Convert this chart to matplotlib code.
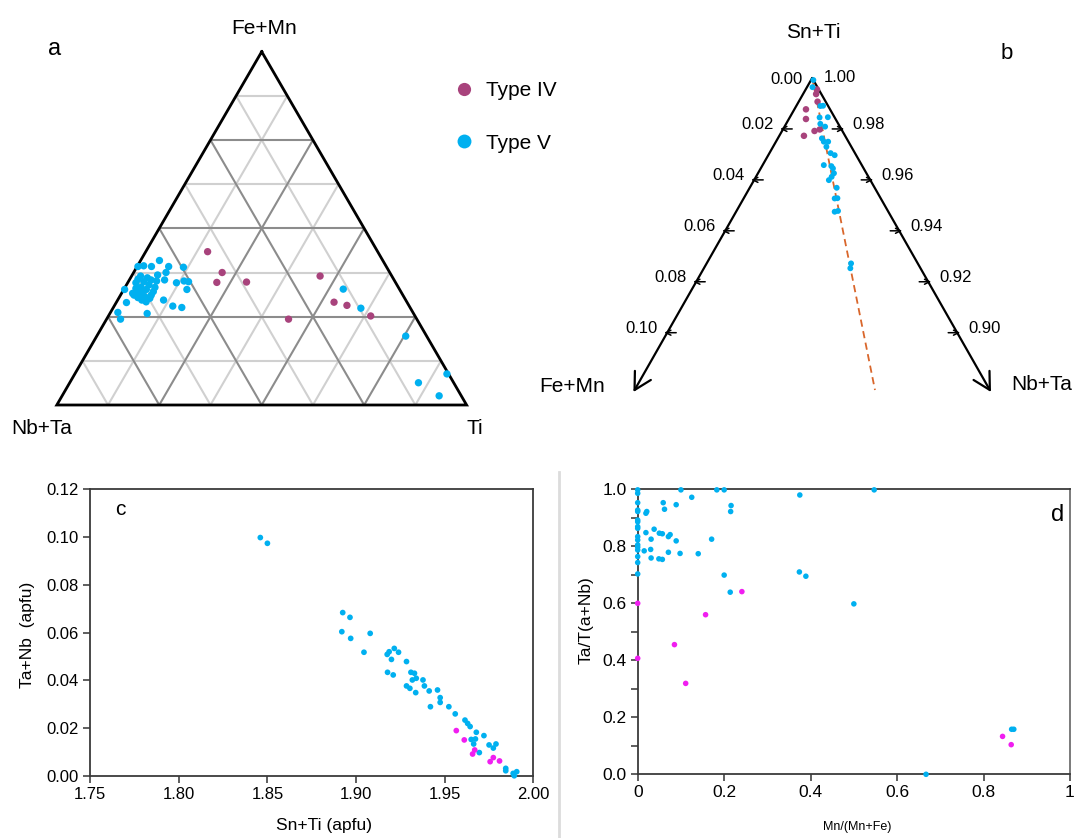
import numpy as np
import matplotlib
matplotlib.use("Agg")
import matplotlib.pyplot as plt
from matplotlib.lines import Line2D
from matplotlib.ticker import FixedLocator, MultipleLocator

plt.rcParams['font.family'] = ['Liberation Sans', 'DejaVu Sans']

PURPLE = '#A8437C'
BLUE = '#00B0F0'
MAGENTA = '#F01EF0'

# ---------------- Panel a: ternary Fe+Mn (top) / Nb+Ta (left) / Ti (right)
a_iv_femn = [0.434, 0.375, 0.347, 0.348, 0.365, 0.291, 0.282, 0.252, 0.243]
a_iv_ti = [0.151, 0.216, 0.217, 0.289, 0.460, 0.531, 0.567, 0.640, 0.444]
a_v_femn = [0.409, 0.392, 0.394, 0.392, 0.392, 0.390, 0.365, 0.360, 0.368, 0.375,
            0.354, 0.351, 0.346, 0.351, 0.349, 0.327, 0.327, 0.346, 0.333, 0.340,
            0.333, 0.316, 0.304, 0.307, 0.311, 0.292, 0.297, 0.290, 0.262, 0.243,
            0.259, 0.280, 0.276, 0.321, 0.325, 0.330, 0.327, 0.321, 0.302, 0.297,
            0.356, 0.349, 0.354, 0.311, 0.311, 0.328, 0.274, 0.195, 0.088, 0.063,
            0.026]
a_v_ti = [0.046, 0.002, 0.015, 0.035, 0.077, 0.114, 0.022, 0.041, 0.062, 0.079,
          0.086, 0.068, 0.119, 0.135, 0.147, 0.154, 0.002, 0.020, 0.039, 0.055,
          0.073, 0.027, 0.046, 0.061, 0.075, 0.072, 0.112, 0.025, 0.018, 0.034,
          0.091, 0.143, 0.167, 0.041, 0.047, 0.028, 0.055, 0.075, 0.076, 0.059,
          0.020, 0.038, 0.053, 0.033, 0.049, 0.535, 0.605, 0.754, 0.908, 0.851,
          0.920]

# ---------------- Panel b: ternary corner, Sn+Ti apex (fractions of Fe+Mn, Nb+Ta)
b_iv_femn = [0.0083, 0.0102, 0.0142, 0.0096, 0.0075, 0.0028, 0.0018, 0.0006]
b_iv_nbta = [0.0040, 0.0059, 0.0085, 0.0112, 0.0127, 0.0065, 0.0045, 0.0039]
b_v_femn = [0.0000, 0.0017, 0.0027, 0.0017, 0.0023, 0.0052, 0.0062, 0.0051, 0.0085,
            0.0085, 0.0070, 0.0086, 0.0084, 0.0074, 0.0131, 0.0107, 0.0106, 0.0112,
            0.0143, 0.0127, 0.0131, 0.0159, 0.0149, 0.0185, 0.0172, 0.0230, 0.0242]
b_v_nbta = [0.0008, 0.0019, 0.0083, 0.0092, 0.0131, 0.0103, 0.0118, 0.0140, 0.0152,
            0.0165, 0.0180, 0.0184, 0.0211, 0.0229, 0.0211, 0.0239, 0.0249, 0.0262,
            0.0258, 0.0261, 0.0300, 0.0314, 0.0323, 0.0340, 0.0350, 0.0498, 0.0505]
b_trend_femn = [0.0, 0.0396]
b_trend_nbta = [0.0, 0.0829]
b_left_ticks = [0.00, 0.02, 0.04, 0.06, 0.08, 0.10]
b_right_ticks = [1.00, 0.98, 0.96, 0.94, 0.92, 0.90]

# ---------------- Panel c
c_v_x = [1.846, 1.850, 1.8925, 1.8966, 1.892, 1.897, 1.908, 1.9045, 1.9176, 1.9187,
         1.9216, 1.920, 1.924, 1.9178, 1.921, 1.9285, 1.931, 1.933, 1.9318, 1.934,
         1.9378, 1.9386, 1.9285, 1.9304, 1.9337, 1.9413, 1.946, 1.9475, 1.9475, 1.942,
         1.9524, 1.956, 1.9615, 1.963, 1.9644, 1.9679, 1.9722, 1.965, 1.9664, 1.9674,
         1.9751, 1.9775, 1.979, 1.9696, 1.9845, 1.9845, 1.9887, 1.9907, 1.9893]
c_v_y = [0.0998, 0.0974, 0.0684, 0.0664, 0.0604, 0.0576, 0.0597, 0.0518, 0.0509, 0.0520,
         0.0534, 0.0488, 0.0518, 0.0434, 0.0423, 0.0479, 0.0434, 0.0430, 0.0402, 0.0409,
         0.0402, 0.0377, 0.0377, 0.0367, 0.0349, 0.0356, 0.0360, 0.0328, 0.0308, 0.0290,
         0.0290, 0.0260, 0.0234, 0.0220, 0.0207, 0.0183, 0.0169, 0.0153, 0.0134, 0.0155,
         0.0130, 0.0117, 0.0134, 0.0098, 0.0032, 0.0022, 0.0011, 0.0018, 0.0001]
c_iv_x = [1.9566, 1.9611, 1.9670, 1.9658, 1.9757, 1.9775, 1.9810]
c_iv_y = [0.0190, 0.0151, 0.0109, 0.0092, 0.0060, 0.0077, 0.0063]
c_xticks = [1.75, 1.80, 1.85, 1.90, 1.95, 2.00]
c_yticks = [0.00, 0.02, 0.04, 0.06, 0.08, 0.10, 0.12]

# ---------------- Panel d
d_v_x = [0, 0, 0, 0, 0, 0, 0, 0, 0, 0, 0, 0, 0, 0, 0, 0, 0,
         0.100, 0.183, 0.200, 0.125, 0.059, 0.089, 0.062, 0.021, 0.019, 0.216,
         0.215, 0.375, 0.547, 0.038, 0.019, 0.050, 0.057, 0.071, 0.075, 0.031,
         0.089, 0.171, 0.030, 0.015, 0.071, 0.098, 0.140, 0.031, 0.049, 0.057,
         0.200, 0.374, 0.389, 0.214, 0.500, 0.865, 0.870, 0.667]
d_v_y = [0.998, 0.986, 0.953, 0.927, 0.922, 0.892, 0.886, 0.869, 0.863, 0.834,
         0.822, 0.805, 0.797, 0.787, 0.764, 0.743, 0.703,
         0.998, 0.998, 0.998, 0.972, 0.953, 0.946, 0.930, 0.922, 0.916, 0.943,
         0.922, 0.980, 0.998, 0.860, 0.848, 0.846, 0.844, 0.834, 0.841, 0.825,
         0.819, 0.825, 0.789, 0.784, 0.779, 0.775, 0.774, 0.759, 0.756, 0.754,
         0.699, 0.710, 0.695, 0.639, 0.598, 0.158, 0.158, 0.000]
d_iv_x = [0, 0, 0.241, 0.157, 0.085, 0.111, 0.844, 0.864]
d_iv_y = [0.600, 0.407, 0.641, 0.560, 0.455, 0.319, 0.133, 0.104]
d_xticks = [0, 0.2, 0.4, 0.6, 0.8, 1.0]
d_xlabels = ['0', '0.2', '0.4', '0.6', '0.8', '1']
d_yticks = [0.0, 0.2, 0.4, 0.6, 0.8, 1.0]

# =====================================================================
W, H = 1076, 838
fig = plt.figure(figsize=(W / 100, H / 100), dpi=100)
bg = fig.add_axes([0, 0, 1, 1])
bg.set_xlim(0, W)
bg.set_ylim(H, 0)
bg.axis('off')
bg.patch.set_visible(False)

# ---- panel a geometry (canvas units)
VA = np.array([261.7, 51.7])   # Fe+Mn
VB = np.array([56.8, 405.0])   # Nb+Ta
VC = np.array([466.6, 405.0])  # Ti


def tern_a(femn, ti):
    femn = np.asarray(femn, float)
    ti = np.asarray(ti, float)
    nb = 1 - femn - ti
    return (nb * VB[0] + ti * VC[0] + femn * VA[0],
            nb * VB[1] + ti * VC[1] + femn * VA[1])


n = 8
for pass_dark in (False, True):
    for k in range(1, n):
        dark = (k % 2 == 0)
        if dark != pass_dark:
            continue
        fr = k / n
        col = '#8c8c8c' if dark else '#d0d0d0'
        for (f0, t0), (f1, t1) in [((fr, 0), (fr, 1 - fr)),
                                   ((0, fr), (1 - fr, fr)),
                                   ((0, 1 - fr), (1 - fr, 0))]:
            x, y = tern_a([f0, f1], [t0, t1])
            bg.plot(x, y, color=col, lw=1.5, zorder=1, solid_capstyle='butt')
ox, oy = tern_a([1, 0, 0, 1], [0, 0, 1, 0])
bg.plot(ox, oy, color='black', lw=2.0, zorder=2, solid_joinstyle='miter')

x, y = tern_a(a_iv_femn, a_iv_ti)
bg.scatter(x, y, s=28, color=PURPLE, edgecolors='none', zorder=4)
x, y = tern_a(a_v_femn, a_v_ti)
bg.scatter(x, y, s=28, color=BLUE, edgecolors='none', zorder=4)

bg.text(264.5, 28.5, 'Fe+Mn', fontsize=15, ha='center', va='center')
bg.text(41.3, 428.3, 'Nb+Ta', fontsize=15, ha='center', va='center')
bg.text(475.2, 428.3, 'Ti', fontsize=15, ha='center', va='center')
bg.text(55, 49, 'a', fontsize=17, ha='center', va='center')

handles = [Line2D([], [], marker='o', ls='none', color=PURPLE, markersize=9.5,
                  markeredgewidth=0),
           Line2D([], [], marker='o', ls='none', color=BLUE, markersize=10,
                  markeredgewidth=0)]
bg.legend(handles, ['Type IV', 'Type V'], loc='upper left',
          bbox_to_anchor=(454, 81), bbox_transform=bg.transData,
          frameon=False, fontsize=15, handlelength=1.0, handletextpad=0.55,
          labelspacing=1.62, borderpad=0, borderaxespad=0)

# ---- panel b geometry
P0 = np.array([812.2, 78.0])
VL = np.array([-1450.0, 2547.0])
VR = np.array([1450.0, 2547.0])


def tern_b(femn, nbta):
    femn = np.asarray(femn, float)
    nbta = np.asarray(nbta, float)
    return (P0[0] + femn * VL[0] + nbta * VR[0],
            P0[1] + femn * VL[1] + nbta * VR[1])


edge_end = 0.1233
for tip in (tern_b(edge_end, 0), tern_b(0, edge_end)):
    bg.annotate('', xy=tip, xytext=tern_b(0, 0),
                arrowprops=dict(arrowstyle='->,head_length=0.55,head_width=0.3',
                                lw=1.6, color='black', shrinkA=0, shrinkB=0,
                                mutation_scale=22), zorder=3)

for v in b_left_ticks:
    tx, ty = tern_b(v, 0)
    if v > 0:
        bg.annotate('', xy=(tx - 3, ty), xytext=(tx + 9, ty),
                    arrowprops=dict(arrowstyle='->', lw=1.1, color='black',
                                    shrinkA=0, shrinkB=0, mutation_scale=9))
    bg.text(tx - 9.5, ty - 4 + (6 if v == 0 else 0), f'{v:.2f}', fontsize=12,
            ha='right', va='center')
for v in b_right_ticks:
    tx, ty = tern_b(0, 1 - v)
    if v < 1:
        bg.annotate('', xy=(tx + 3, ty), xytext=(tx - 9, ty),
                    arrowprops=dict(arrowstyle='->', lw=1.1, color='black',
                                    shrinkA=0, shrinkB=0, mutation_scale=9))
    bg.text(tx + 11.5, ty - 4 + (3 if v == 1 else 0), f'{v:.2f}', fontsize=12,
            ha='left', va='center')

x, y = tern_b(b_trend_femn, b_trend_nbta)
bg.plot(x, y, color='#D9662B', lw=1.3, ls=(0, (4, 2.5)), zorder=3)
x, y = tern_b(b_iv_femn, b_iv_nbta)
bg.scatter(x, y, s=22, color=PURPLE, edgecolors='none', zorder=4)
x, y = tern_b(b_v_femn, b_v_nbta)
bg.scatter(x, y, s=18, color=BLUE, edgecolors='none', zorder=5)

bg.text(813.5, 32.3, 'Sn+Ti', fontsize=15, ha='center', va='center')
bg.text(1006.7, 53.3, 'b', fontsize=16, ha='center', va='center')
bg.text(572, 386, 'Fe+Mn', fontsize=15, ha='center', va='center')
bg.text(1041.7, 384, 'Nb+Ta', fontsize=15, ha='center', va='center')

# separator line
bg.plot([559, 559], [472, H], color='#dcdcdc', lw=2.0)

# ---- panel c
axc = fig.add_axes([90.2 / W, 1 - 776 / H, 443 / W, 286.7 / H])
axc.scatter(c_v_x, c_v_y, s=17, color=BLUE, edgecolors='none', zorder=3,
            clip_on=False)
axc.scatter(c_iv_x, c_iv_y, s=17, color=MAGENTA, edgecolors='none', zorder=4,
            clip_on=False)
axc.set_xlim(1.75, 2.00)
axc.set_ylim(0, 0.12)
axc.xaxis.set_major_locator(FixedLocator(c_xticks))
axc.yaxis.set_major_locator(FixedLocator(c_yticks))
axc.set_xticklabels([f'{v:.2f}' for v in c_xticks])
axc.set_yticklabels([f'{v:.2f}' for v in c_yticks])
axc.tick_params(direction='out', length=5, width=1.1, color='#333333',
                labelsize=12, pad=3)
for sp in axc.spines.values():
    sp.set_color('#3a3a3a')
    sp.set_linewidth(1.3)
axc.set_xlabel('Sn+Ti (apfu)', fontsize=12.5)
axc.set_ylabel('Ta+Nb  (apfu)', fontsize=12.5)
axc.xaxis.set_label_coords(0.527, -0.147)
axc.yaxis.set_label_coords(-0.124, 0.492)
axc.text(0.067, 0.928, 'c', transform=axc.transAxes, fontsize=15,
         ha='center', va='center')

# ---- panel d
axd = fig.add_axes([637.7 / W, 1 - 774.3 / H, 432.3 / W, 285 / H])
axd.scatter(d_v_x, d_v_y, s=16, color=BLUE, edgecolors='none', zorder=3,
            clip_on=False)
axd.scatter(d_iv_x, d_iv_y, s=16, color=MAGENTA, edgecolors='none', zorder=4,
            clip_on=False)
axd.set_xlim(0, 1)
axd.set_ylim(0, 1)
axd.xaxis.set_major_locator(FixedLocator(d_xticks))
axd.set_xticklabels(d_xlabels)
axd.yaxis.set_major_locator(FixedLocator(d_yticks))
axd.set_yticklabels([f'{v:.1f}' for v in d_yticks])
axd.yaxis.set_minor_locator(MultipleLocator(0.1))
axd.tick_params(which='both', direction='out', length=5, width=1.1,
                color='#333333', labelsize=12.5, pad=3)
for side, sp in axd.spines.items():
    sp.set_color('#3a3a3a' if side != 'right' else '#707070')
    sp.set_linewidth(1.3)
axd.set_xlabel('Mn/(Mn+Fe)', fontsize=9)
axd.set_ylabel('Ta/T(a+Nb)', fontsize=12.5)
axd.xaxis.set_label_coords(0.507, -0.165)
axd.yaxis.set_label_coords(-0.102, 0.541)
axd.text(0.972, 0.91, 'd', transform=axd.transAxes, fontsize=17,
         ha='center', va='center')

fig.savefig('out.png', dpi=100)
